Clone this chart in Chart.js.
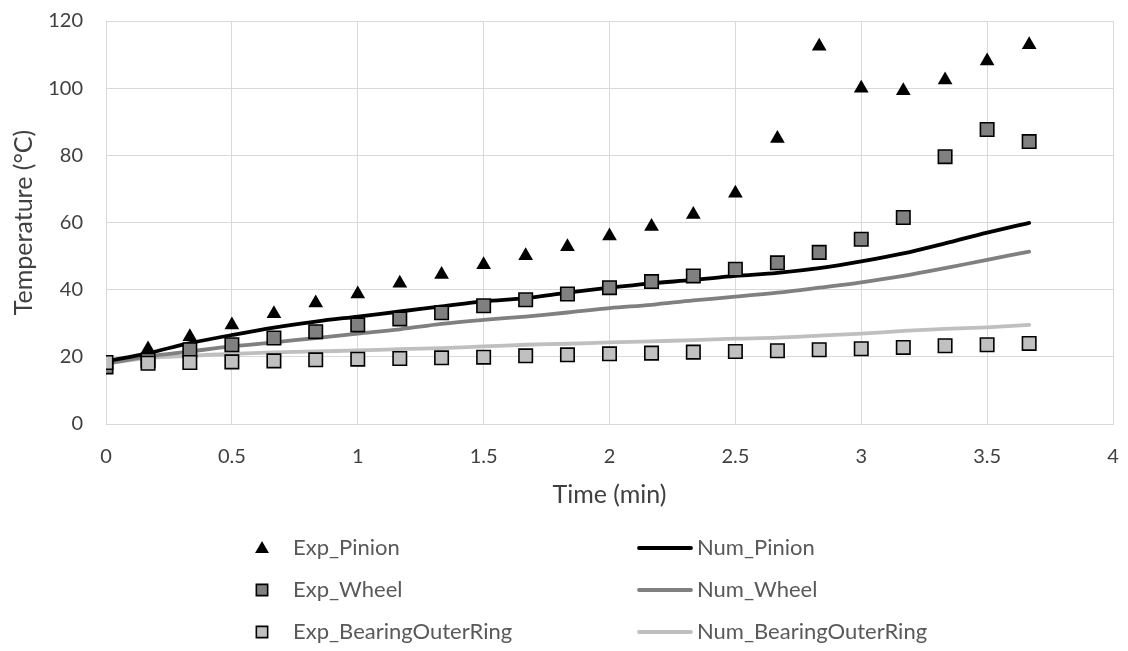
<!DOCTYPE html>
<html>
<head>
<meta charset="utf-8">
<script src="https://cdn.jsdelivr.net/npm/chart.js@4.4.0/dist/chart.umd.min.js"></script>
<style>
    html, body { margin: 0; padding: 0; background: #fff; }
    #wrap { width: 1128px; height: 651px; position: relative; }
</style>
</head>
<body>
<div id="wrap"><canvas id="chart"></canvas></div>
<script>
// time in minutes (10 s steps)
const times = [0, 0.167, 0.333, 0.5, 0.667, 0.833, 1, 1.167, 1.333, 1.5, 1.667, 1.833, 2, 2.167, 2.333, 2.5, 2.667, 2.833, 3, 3.167, 3.333, 3.5, 3.667];

// measured temperatures (°C)
const expPinion = [17.5, 22.3, 26, 29.5, 32.8, 36, 38.7, 41.9, 44.5, 47.4, 50.1, 52.8, 56, 58.8, 62.4, 68.7, 85, 112.5, 100, 99.2, 102.4, 108.1, 112.9];
const expWheel = [17, 19, 22.1, 23.6, 25.6, 27.5, 29.5, 31.3, 33.1, 35.2, 37, 38.7, 40.6, 42.4, 44.1, 46.1, 48, 51.1, 55, 61.5, 79.6, 87.7, 84.1];
const expBearing = [18.3, 18.1, 18.3, 18.5, 18.8, 19.1, 19.3, 19.5, 19.7, 19.9, 20.3, 20.6, 20.9, 21.1, 21.4, 21.6, 21.8, 22.1, 22.4, 22.8, 23.3, 23.6, 24.0];

// numerical temperatures (°C)
const numPinion = [18.6, 21.1, 24.1, 26.5, 28.7, 30.5, 32, 33.5, 35, 36.5, 37.5, 39.1, 40.6, 41.9, 42.9, 44.1, 45, 46.4, 48.4, 50.8, 53.8, 57, 59.9];
const numWheel = [18, 20.1, 21.6, 23.1, 24.3, 25.6, 26.9, 28.2, 29.8, 31, 32, 33.2, 34.5, 35.5, 36.8, 37.9, 39.1, 40.6, 42.2, 44.1, 46.4, 48.9, 51.3];
const numBearing = [18, 19.6, 20.3, 20.9, 21.3, 21.6, 21.9, 22.3, 22.6, 23.1, 23.6, 23.9, 24.3, 24.6, 25, 25.4, 25.7, 26.3, 26.9, 27.7, 28.3, 28.8, 29.5];

const xTicks = [0, 0.5, 1, 1.5, 2, 2.5, 3, 3.5, 4];
const yTicks = [0, 20, 40, 60, 80, 100, 120];

const FONT = "Lato, 'Open Sans', sans-serif";
const gridColor = "#d9d9d9";

function pts(ys) {
    return times.map((t, i) => ({ x: t, y: ys[i] }));
}

function markerSet(label, ys, style, fill, radius, order) {
    return {
        label: label,
        data: pts(ys),
        showLine: false,
        pointStyle: style,
        pointRadius: radius,
        pointBackgroundColor: fill,
        pointBorderColor: "#000",
        pointBorderWidth: style === "rect" ? 1.6 : 0,
        backgroundColor: fill,
        borderColor: "#000",
        order: order
    };
}

function lineSet(label, ys, color) {
    return {
        label: label,
        data: pts(ys),
        showLine: true,
        borderColor: color,
        backgroundColor: color,
        borderWidth: 3.8,
        borderCapStyle: "round",
        pointRadius: 0,
        tension: 0.35,
        order: 5
    };
}

// legend laid out in two columns below the plot, like the original
const gridLegend = {
    id: "gridLegend",
    afterDraw(chart) {
        const ctx = chart.ctx;
        const ds = chart.data.datasets;
        const rows = [[0, 3], [1, 4], [2, 5]];
        ctx.save();
        ctx.font = "22px " + FONT;
        ctx.textBaseline = "middle";
        rows.forEach((pair, r) => {
            const y = 548 + r * 42;
            const m = ds[pair[0]];
            ctx.fillStyle = m.pointBackgroundColor;
            ctx.strokeStyle = m.pointBorderColor;
            ctx.lineWidth = m.pointBorderWidth;
            Chart.helpers.drawPoint(ctx, {
                pointStyle: m.pointStyle,
                radius: 8,
                borderWidth: m.pointBorderWidth,
                rotation: 0
            }, 262, m.pointStyle === "triangle" ? y + 1 : y);
            ctx.fillStyle = "#595959";
            ctx.fillText(m.label, 293, y);

            const l = ds[pair[1]];
            ctx.strokeStyle = l.borderColor;
            ctx.lineWidth = l.borderWidth;
            ctx.lineCap = "round";
            ctx.beginPath();
            ctx.moveTo(639, y);
            ctx.lineTo(691, y);
            ctx.stroke();
            ctx.fillText(l.label, 697, y);
        });
        ctx.restore();
    }
};

const chart = new Chart(document.getElementById("chart"), {
    type: "scatter",
    data: {
        datasets: [
            markerSet("Exp_Pinion", expPinion, "triangle", "#000", 8.5, 3),
            markerSet("Exp_Wheel", expWheel, "rect", "#808080", 9.5, 2),
            markerSet("Exp_BearingOuterRing", expBearing, "rect", "#c0c0c0", 9.5, 1),
            lineSet("Num_Pinion", numPinion, "#000"),
            lineSet("Num_Wheel", numWheel, "#808080"),
            lineSet("Num_BearingOuterRing", numBearing, "#bfbfbf")
        ]
    },
    options: {
        responsive: true,
        maintainAspectRatio: false,
        animation: false,
        layout: { padding: { left: 0, top: 21, right: 15, bottom: 137 } },
        plugins: {
            legend: { display: false },
            tooltip: { enabled: false }
        },
        scales: {
            x: {
                type: "linear",
                min: 0,
                max: 4,
                afterBuildTicks: s => { s.ticks = xTicks.map(v => ({ value: v })); },
                afterFit: s => {
                    s.height = 90;
                    s.paddingLeft = 0;
                    s.paddingRight = 0;
                },
                grid: { color: gridColor, lineWidth: 1, drawTicks: false },
                border: { color: gridColor },
                ticks: {
                    padding: 21,
                    color: "#404040",
                    font: { family: FONT, size: 20 },
                    callback: v => String(v)
                },
                title: {
                    display: true,
                    text: "Time (min)",
                    color: "#404040",
                    font: { family: FONT, size: 25 },
                    padding: { top: 4, bottom: 4 }
                }
            },
            y: {
                min: 0,
                max: 120,
                afterBuildTicks: s => { s.ticks = yTicks.map(v => ({ value: v })); },
                afterFit: s => {
                    s.width = 106;
                    s.paddingTop = 0;
                    s.paddingBottom = 0;
                },
                grid: { color: gridColor, lineWidth: 1, drawTicks: false },
                border: { color: gridColor },
                ticks: { padding: 23, color: "#404040", font: { family: FONT, size: 20 } },
                title: {
                    display: true,
                    text: "Temperature (°C)",
                    color: "#404040",
                    font: { family: FONT, size: 25 },
                    padding: { top: 9, bottom: 0 }
                }
            }
        }
    },
    plugins: [gridLegend]
});
</script>
</body>
</html>
